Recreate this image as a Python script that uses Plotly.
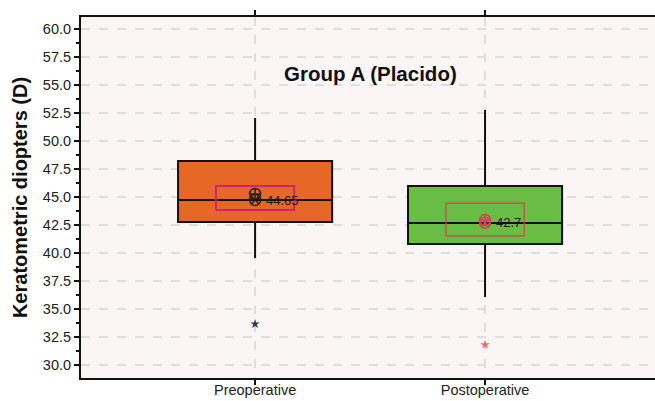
import plotly.graph_objects as go

categories = ["Preoperative", "Postoperative"]
q1 = [42.77, 40.80]
median = [44.73, 42.68]
q3 = [48.21, 45.98]
lower = [39.55, 36.07]
upper = [52.05, 52.77]
outliers = [33.66, 31.80]
means = [45.27, 42.95]
medians_marker = [44.73, 42.70]
ci_low = [43.84, 41.52]
ci_high = [45.98, 44.46]
mean_labels = ["44.65", "42.7"]
box_colors = ["#e76727", "#69bd45"]
outlier_colors = ["#2d3a55", "#f06a6a"]
rect_colors = ["#d0246e", "#d8404e"]
yticks = [30.0, 32.5, 35.0, 37.5, 40.0, 42.5, 45.0, 47.5, 50.0, 52.5, 55.0, 57.5, 60.0]

fig = go.Figure()
for i, c in enumerate(categories):
    fig.add_trace(go.Box(
        x=[i], q1=[q1[i]], median=[median[i]], q3=[q3[i]],
        lowerfence=[lower[i]], upperfence=[upper[i]],
        width=0.67, whiskerwidth=0, fillcolor=box_colors[i],
        line=dict(color="#111111", width=2), boxpoints=False,
        showlegend=False, hoverinfo="skip"))
    hw = 0.17
    fig.add_trace(go.Scatter(
        x=[i - hw, i + hw, i + hw, i - hw, i - hw],
        y=[ci_low[i], ci_low[i], ci_high[i], ci_high[i], ci_low[i]],
        mode="lines", line=dict(color=rect_colors[i], width=2 if i == 0 else 1.2),
        showlegend=False, hoverinfo="skip"))
    mc = "#222222" if i == 0 else "#d8404e"
    fig.add_trace(go.Scatter(
        x=[i], y=[means[i]], mode="markers",
        marker=dict(symbol="circle-cross-open", size=11, color=mc, line=dict(width=1.5)),
        showlegend=False, hoverinfo="skip"))
    fig.add_trace(go.Scatter(
        x=[i], y=[medians_marker[i]], mode="markers",
        marker=dict(symbol="circle-x-open", size=11, color=mc, line=dict(width=1.5)),
        showlegend=False, hoverinfo="skip"))
    fig.add_trace(go.Scatter(
        x=[i], y=[outliers[i]], mode="markers",
        marker=dict(symbol="star", size=7, color=outlier_colors[i]),
        showlegend=False, hoverinfo="skip"))
    fig.add_annotation(x=i, y=medians_marker[i], text=mean_labels[i], showarrow=False,
                       xanchor="left", xshift=9, font=dict(size=13, color="#1a1a1a",
                       family="Liberation Sans, Arial"))

fig.add_annotation(x=0.5, y=1.0, xref="x", yref="paper", yshift=-43,
                   text="<b>Group A (Placido)</b>", showarrow=False,
                   font=dict(size=20.5, color="#111111", family="Liberation Sans, Arial"))

fig.update_layout(
    width=655, height=401,
    margin=dict(l=81, r=0, t=17, b=23),
    paper_bgcolor="white", plot_bgcolor="#fbf5f5",
    font=dict(family="Liberation Sans, Arial", color="#222222"),
    xaxis=dict(range=[-0.757, 1.739], tickvals=[0, 1], ticktext=categories,
               showline=True, linecolor="#111111", linewidth=2, mirror="ticks",
               ticks="outside", ticklen=5, tickwidth=2, tickcolor="#111111",
               ticklabelstandoff=-7,
               showgrid=True, gridcolor="#dedede", griddash="dash", gridwidth=1.5,
               zeroline=False, tickfont=dict(size=14.5), automargin=False),
    yaxis=dict(range=[28.84, 61.07], tickvals=yticks, ticktext=[f"{v:.1f}" for v in yticks],
               showline=True, linecolor="#111111", linewidth=2,
               ticks="outside", ticklen=5, tickwidth=1.5, tickcolor="#111111",
               showgrid=True, gridcolor="#dedede", griddash="dash", gridwidth=1.5,
               zeroline=False, tickfont=dict(size=14.5), automargin=False,
               minor=dict(dtick=1.25, tick0=30, ticks="outside", ticklen=3, tickcolor="#111111", showgrid=False),
               title=dict(text="<b>Keratometric diopters (D)</b>", font=dict(size=20, color="#111111"), standoff=10)),
)

fig.write_html("out.html")
